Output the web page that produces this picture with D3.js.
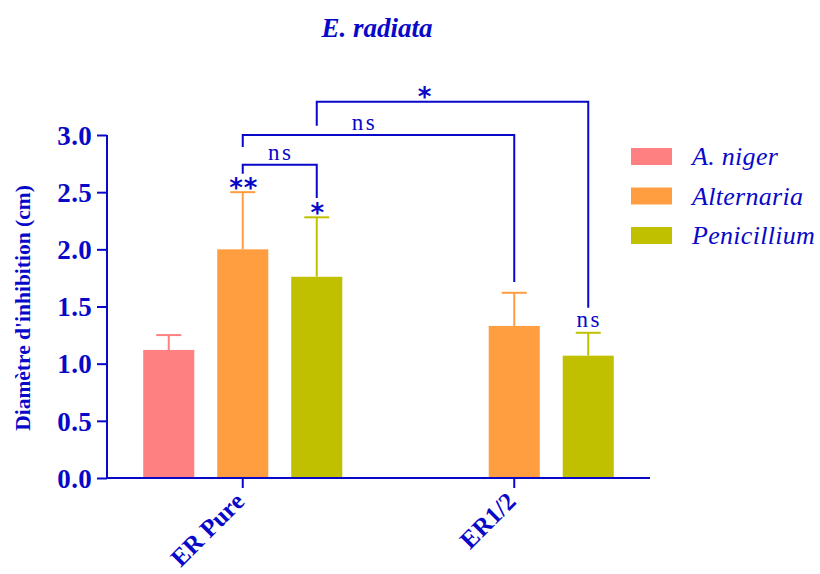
<!DOCTYPE html>
<html>
<head>
<meta charset="utf-8">
<script src="https://cdn.jsdelivr.net/npm/d3@7"></script>
<style>
  html, body { margin: 0; padding: 0; background: #fff; }
  svg { display: block; }
</style>
</head>
<body>
<svg id="chart" width="820" height="574"></svg>
<script>
// Treatments on the x axis and fungal strains within each treatment
const groups = ["ER Pure", "ER1/2"];
const series = ["A. niger", "Alternaria", "Penicillium"];
const seriesColors = ["#FF8080", "#FF9E40", "#C0C000"];

// Mean inhibition diameter (cm) per strain, one value per treatment (null = not tested)
const aNigerMeans = [1.12, null];
const alternariaMeans = [2.0, 1.33];
const penicilliumMeans = [1.76, 1.07];

// Standard deviation (upper error bar) per strain
const aNigerSD = [0.13, null];
const alternariaSD = [0.5, 0.29];
const penicilliumSD = [0.52, 0.2];

const yTicks = [0, 0.5, 1.0, 1.5, 2.0, 2.5, 3.0];

// Significance markers written directly above individual bars
const barMarks = [
  { group: "ER Pure", series: "Alternaria", label: "**" },
  { group: "ER Pure", series: "Penicillium", label: "*" },
  { group: "ER1/2", series: "Penicillium", label: "ns" }
];

// Pairwise comparison brackets: ends, bar height, leg bottoms (cm) and label
const brackets = [
  { a: ["ER Pure", "Alternaria"], b: ["ER Pure", "Penicillium"], top: 2.74, legA: 2.66, legB: 2.45, label: "ns" },
  { a: ["ER Pure", "Alternaria"], b: ["ER1/2", "Alternaria"], top: 3.0, legA: 2.895, legB: 1.715, label: "ns" },
  { a: ["ER Pure", "Penicillium"], b: ["ER1/2", "Penicillium"], top: 3.29, legA: 3.08, legB: 1.49, label: "*" }
];

const meansBySeries = [aNigerMeans, alternariaMeans, penicilliumMeans];
const sdBySeries = [aNigerSD, alternariaSD, penicilliumSD];
const rows = [];
series.forEach((s, si) => {
  groups.forEach((g, gi) => {
    const v = meansBySeries[si][gi];
    if (v != null) rows.push({ group: g, series: s, value: v, sd: sdBySeries[si][gi], color: seriesColors[si] });
  });
});

const ink = "#0808C8";
const serif = "'Liberation Serif', 'Times New Roman', serif";
const svg = d3.select("#chart");

const x0 = d3.scaleBand().domain(groups).range([107, 650]).paddingInner(0).paddingOuter(0);
const groupSpan = 222;
const x1 = d3.scaleBand().domain(series).range([0, groupSpan]).paddingInner(0.31).paddingOuter(0.155);
const y = d3.scaleLinear().domain([0, 3]).range([478, 135]);
const color = d3.scaleOrdinal().domain(series).range(seriesColors);

const barLeft = (g, s) => x0(g) + x0.bandwidth() / 2 - groupSpan / 2 + x1(s);
const barCenter = (g, s) => barLeft(g, s) + x1.bandwidth() / 2;

// Bars
svg.append("g").selectAll("rect").data(rows).join("rect")
  .attr("x", d => barLeft(d.group, d.series))
  .attr("y", d => y(d.value))
  .attr("width", x1.bandwidth())
  .attr("height", d => y(0) - y(d.value))
  .attr("fill", d => d.color);

// Upper error bars
const err = svg.append("g").selectAll("g").data(rows).join("g")
  .attr("stroke", d => d.color).attr("stroke-width", 2);
err.append("line")
  .attr("x1", d => barCenter(d.group, d.series)).attr("x2", d => barCenter(d.group, d.series))
  .attr("y1", d => y(d.value)).attr("y2", d => y(d.value + d.sd));
err.append("line")
  .attr("x1", d => barCenter(d.group, d.series) - 12.5).attr("x2", d => barCenter(d.group, d.series) + 12.5)
  .attr("y1", d => y(d.value + d.sd)).attr("y2", d => y(d.value + d.sd));

// Y axis
const yAxis = svg.append("g").attr("transform", "translate(107,0)")
  .call(d3.axisLeft(y).tickValues(yTicks).tickFormat(d3.format(".1f")).tickSize(10).tickPadding(5));
yAxis.select(".domain").attr("stroke", ink).attr("stroke-width", 2).attr("d", `M0,${y(3)}V${y(0)}`);
yAxis.selectAll(".tick line").attr("stroke", ink).attr("stroke-width", 2);
yAxis.selectAll(".tick text")
  .attr("fill", ink).attr("font-family", serif).attr("font-weight", "bold")
  .attr("font-size", 27).attr("letter-spacing", 0.3).attr("dy", "0.34em");

// X axis
const xAxis = svg.append("g").attr("transform", `translate(0,${y(0)})`)
  .call(d3.axisBottom(x0).tickSize(10).tickFormat(""));
xAxis.select(".domain").attr("stroke", ink).attr("stroke-width", 2).attr("d", "M107,0H650");
xAxis.selectAll(".tick line").attr("stroke", ink).attr("stroke-width", 2);

// Rotated category labels
svg.append("g").selectAll("text").data(groups).join("text")
  .attr("transform", d => `translate(${x0(d) + x0.bandwidth() / 2 + 3},${y(0) + 25}) rotate(-45)`)
  .attr("text-anchor", "end")
  .attr("fill", ink).attr("font-family", serif).attr("font-weight", "bold").attr("font-size", 25)
  .text(d => d);

// Y axis title
svg.append("text")
  .attr("transform", `translate(30,308) rotate(-90)`)
  .attr("text-anchor", "middle")
  .attr("fill", ink).attr("font-family", serif).attr("font-weight", "bold").attr("font-size", 21.5)
  .text("Diamètre d'inhibition (cm)");

// Chart title
svg.append("text")
  .attr("x", 377).attr("y", 37).attr("text-anchor", "middle")
  .attr("fill", ink).attr("font-family", serif).attr("font-weight", "bold").attr("font-style", "italic")
  .attr("font-size", 27)
  .text("E. radiata");

// Marker text helper: asterisks in a sans face, "ns" in serif
function markText(sel) {
  sel.attr("text-anchor", "middle").attr("fill", ink)
    .attr("font-family", d => d.label === "ns" ? serif : "'DejaVu Sans', sans-serif")
    .attr("font-weight", d => d.label === "ns" ? "normal" : "bold")
    .attr("font-size", d => d.label === "ns" ? 23 : 26)
    .attr("letter-spacing", d => d.label === "ns" ? 2.5 : 1)
    .text(d => d.label);
}

// Markers above single bars
const rowOf = (g, s) => rows.find(r => r.group === g && r.series === s);
svg.append("g").selectAll("text").data(barMarks).join("text")
  .attr("x", d => barCenter(d.group, d.series) + 1)
  .attr("y", d => { const r = rowOf(d.group, d.series); return y(r.value + r.sd) + (d.label === "ns" ? -6 : 4.5); })
  .call(markText);

// Comparison brackets; labels sit part-way along each bracket
const bracketLabelAt = [0.5, 0.445, 0.395];
const br = svg.append("g").selectAll("g").data(brackets).join("g");
br.append("path")
  .attr("fill", "none").attr("stroke", ink).attr("stroke-width", 2)
  .attr("d", d => {
    const xa = barCenter(...d.a), xb = barCenter(...d.b);
    return `M${xa},${y(d.legA)}V${y(d.top)}H${xb}V${y(d.legB)}`;
  });
br.append("text")
  .attr("x", (d, i) => {
    const xa = barCenter(...d.a), xb = barCenter(...d.b);
    return xa + (xb - xa) * bracketLabelAt[i] + 1;
  })
  .attr("y", d => y(d.top) + (d.label === "ns" ? -5 : 4))
  .call(markText);

// Legend
const legend = svg.append("g").selectAll("g").data(series).join("g")
  .attr("transform", (d, i) => `translate(631,${148 + i * 39.5})`);
legend.append("rect").attr("width", 41).attr("height", 17).attr("fill", d => color(d));
legend.append("text")
  .attr("x", 61).attr("y", 17)
  .attr("fill", ink).attr("font-family", serif).attr("font-style", "italic").attr("font-size", 26)
  .attr("letter-spacing", 0.3)
  .text(d => d);
</script>
</body>
</html>
